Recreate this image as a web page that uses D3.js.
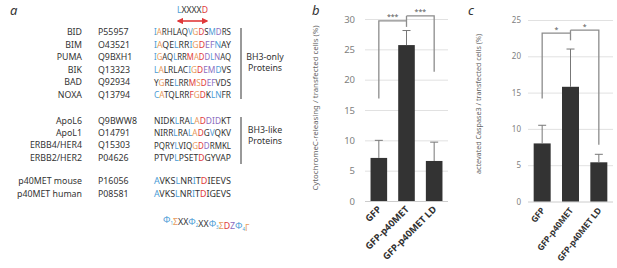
<!DOCTYPE html>
<html>
<head>
<meta charset="utf-8">
<script src="https://cdn.jsdelivr.net/npm/d3@7"></script>
<style>
  body { margin: 0; background: #fff; }
  svg { display: block; }
</style>
</head>
<body>
<svg id="chart" width="617" height="268"></svg>
<script>
// panel a: BH3 alignment
const bh3Only = ["BID", "BIM", "PUMA", "BIK", "BAD", "NOXA"];
const bh3OnlyAcc = ["P55957", "O43521", "Q9BXH1", "Q13323", "Q92934", "Q13794"];
const bh3OnlySeq = ["IARHLAQVGDSMDRS", "IAQELRRIGDEFNAY", "IGAQLRRMADDLNAQ",
  "LALRLACIGDEMDVS", "YGRELRRMSDEFVDS", "CATQLRRFGDKLNFR"];
// residue classes: b hydrophobic, o small, r acidic D, p other conserved, k none
const bh3OnlyCls = ["bokkkkkborkbpkk", "bokkbkkborppbkk", "bokkbkkrorpbpkk",
  "bokkkkkborppbkk", "kokkbkkrorppkkk", "bokkkkkrorkbbkk"];

const bh3Like = ["ApoL6", "ApoL1", "ERBB4/HER4", "ERBB2/HER2"];
const bh3LikeAcc = ["Q9BWW8", "O14791", "Q15303", "P04626"];
const bh3LikeSeq = ["NIDKLRALADDIDKT", "NIRRLRALADGVQKV", "PQRYLVIQGDDRMKL", "PTVPLPSETDGYVAP"];
const bh3LikeCls = ["kkkkbkkborpppkk", "kkkkbkkborkbkkk", "kkkkbkkkorpkkkk", "kkkkbkkkkrkkkkk"];

const p40 = ["p40MET mouse", "p40MET human"];
const p40Acc = ["P16056", "P08581"];
const p40Seq = ["AVKSLNRITDIEEVS", "AVKSLNRITDIGEVS"];
const p40Cls = ["bkkkbkkbkrkkkkk", "bkkkbkkbkrkkkkk"];

const motifTop = ["L", "XXXX", "D"];
const motifTopCls = ["b", "k", "r"];
const consensus = [["Φ", "1"], ["Σ", ""], ["XX", ""], ["Φ", "2"], ["XX", ""], ["Φ", "3"],
  ["Σ", ""], ["D", ""], ["Z", ""], ["Φ", "4"], ["Γ", ""]];
const consensusCls = ["b", "o", "k", "b", "k", "b", "o", "r", "p", "b", "o"];

// panels b and c
const categories = ["GFP", "GFP-p40MET", "GFP-p40MET LD"];
const cytoValues = [7.1, 25.7, 6.6];
const cytoErrors = [2.9, 2.4, 3.1];
const cytoTicks = [0, 5, 10, 15, 20, 25, 30];
const caspValues = [8.0, 15.8, 5.4];
const caspErrors = [2.5, 5.2, 1.1];
const caspTicks = [0, 5, 10, 15, 20, 25];

const palette = { b: "#4a9bd6", o: "#e89a5c", r: "#e0393a", p: "#8b6cc0", k: "#333" };
const svg = d3.select("#chart");
const font = "'Noto Sans', 'Open Sans', sans-serif";

// ---------- panel a ----------
svg.append("text").attr("x", 10).attr("y", 15)
  .attr("font-family", font).attr("font-style", "italic").attr("font-size", 13)
  .attr("fill", "#333").text("a");

function drawRows(names, accs, seqs, cls, yStart, step) {
  names.forEach((n, i) => {
    const y = yStart + i * step;
    svg.append("text").attr("x", 82).attr("y", y).attr("dy", "0.35em")
      .attr("text-anchor", "end").attr("font-family", font).attr("font-size", 8.8)
      .attr("fill", "#333").text(n);
    svg.append("text").attr("x", 98).attr("y", y).attr("dy", "0.35em")
      .attr("font-family", font).attr("font-size", 8.8).attr("fill", "#333").text(accs[i]);
    const t = svg.append("text").attr("x", 154).attr("y", y).attr("dy", "0.35em")
      .attr("font-family", font).attr("font-size", 9.4).attr("textLength", 77)
      .attr("lengthAdjust", "spacingAndGlyphs");
    seqs[i].split("").forEach((ch, j) => {
      t.append("tspan").attr("fill", palette[cls[i][j]]).text(ch);
    });
  });
}
drawRows(bh3Only, bh3OnlyAcc, bh3OnlySeq, bh3OnlyCls, 32, 12.6);
drawRows(bh3Like, bh3LikeAcc, bh3LikeSeq, bh3LikeCls, 121, 12.2);
drawRows(p40, p40Acc, p40Seq, p40Cls, 181, 12.8);

// LXXXXD motif and arrow
const motifText = svg.append("text").attr("x", 177).attr("y", 10).attr("dy", "0.35em")
  .attr("font-family", font).attr("font-size", 8.6);
motifTop.forEach((s, i) => motifText.append("tspan").attr("fill", palette[motifTopCls[i]]).text(s));

const defs = svg.append("defs");
defs.append("marker").attr("id", "arr").attr("viewBox", "0 0 10 10")
  .attr("refX", 8).attr("refY", 5).attr("markerWidth", 4).attr("markerHeight", 4)
  .attr("orient", "auto-start-reverse")
  .append("path").attr("d", "M0,0L10,5L0,10z").attr("fill", "#e0393a");
svg.append("line").attr("x1", 178).attr("x2", 207).attr("y1", 21).attr("y2", 21)
  .attr("stroke", "#e0393a").attr("stroke-width", 1.6)
  .attr("marker-start", "url(#arr)").attr("marker-end", "url(#arr)");

// brackets and group labels
[[28, 99, 57, ["BH3-only", "Proteins"]], [117, 164, 130, ["BH3-like", "Proteins"]]]
  .forEach(([y0, y1, ly, lbl]) => {
    svg.append("line").attr("x1", 241).attr("x2", 241).attr("y1", y0).attr("y2", y1)
      .attr("stroke", "#555").attr("stroke-width", 1.2);
    lbl.forEach((s, i) => svg.append("text").attr("x", 265).attr("y", ly + i * 11)
      .attr("dy", "0.35em").attr("text-anchor", "middle").attr("font-family", font)
      .attr("font-size", 8.8).attr("fill", "#333").text(s));
  });

const cons = svg.append("text").attr("x", 163).attr("y", 220).attr("dy", "0.35em")
  .attr("font-family", font).attr("font-size", 8.8);
consensus.forEach(([s, sub], i) => {
  cons.append("tspan").attr("fill", palette[consensusCls[i]]).text(s);
  if (sub) {
    cons.append("tspan").attr("fill", palette[consensusCls[i]])
      .attr("font-size", 4.5).attr("dy", 2).text(sub);
    cons.append("tspan").attr("dy", -2).text("");
  }
});

// ---------- bar panels ----------
function barPanel(o) {
  const y = d3.scaleLinear().domain([0, o.ticks[o.ticks.length - 1]]).range([o.y0, o.y1]);
  const x = d3.scaleBand().domain(categories).range([o.gx0, o.gx1])
    .paddingInner(0.4).paddingOuter(0.2);
  const g = svg.append("g");

  svg.append("text").attr("x", o.letterX).attr("y", 15)
    .attr("font-family", font).attr("font-style", "italic").attr("font-size", 13)
    .attr("fill", "#333").text(o.letter);

  const axis = d3.axisLeft(y).tickValues(o.ticks).tickSize(-(o.gx1 - o.gx0)).tickPadding(o.pad);
  const ag = g.append("g").attr("transform", `translate(${o.gx0},0)`).call(axis);
  ag.select(".domain").remove();
  ag.selectAll(".tick line").attr("stroke", "#d9d9d9").attr("stroke-width", 0.8);
  ag.selectAll(".tick text").attr("font-family", font).attr("font-size", o.tickSize)
    .attr("fill", "#808080");
  ag.selectAll(".tick").filter(d => d === 0).select("line").attr("stroke", "#bfbfbf");

  g.selectAll("rect.bar").data(o.values).join("rect").attr("class", "bar")
    .attr("x", (d, i) => x(categories[i])).attr("width", x.bandwidth())
    .attr("y", d => y(d)).attr("height", d => y(0) - y(d)).attr("fill", "#333");

  const cx = i => x(categories[i]) + x.bandwidth() / 2;
  o.values.forEach((v, i) => {
    const e = o.errors[i];
    g.append("line").attr("x1", cx(i)).attr("x2", cx(i)).attr("y1", y(v)).attr("y2", y(v + e))
      .attr("stroke", "#777").attr("stroke-width", 1);
    g.append("line").attr("x1", cx(i) - 4).attr("x2", cx(i) + 4)
      .attr("y1", y(v + e)).attr("y2", y(v + e)).attr("stroke", "#777").attr("stroke-width", 1);
  });

  // significance brackets
  const s = o.sig;
  const path = d => g.append("path").attr("d", d).attr("stroke", "#8c8c8c")
    .attr("stroke-width", 1.3).attr("fill", "none");
  path(`M${cx(0)},${y(s.leftLow)}V${y(s.h1)}H${cx(1)}`);
  path(`M${cx(1)},${y(s.h2)}H${cx(2)}V${y(s.rightLow)}`);
  path(`M${cx(1)},${y(s.h2)}V${y(s.midLow)}`);
  g.append("text").attr("x", (cx(0) + cx(1)) / 2).attr("y", y(s.h1) - 1.5)
    .attr("text-anchor", "middle").attr("font-family", font).attr("font-size", 7)
    .attr("fill", "#555").text(s.mark);
  g.append("text").attr("x", (cx(1) + cx(2)) / 2).attr("y", y(s.h2) - 1.5)
    .attr("text-anchor", "middle").attr("font-family", font).attr("font-size", 7)
    .attr("fill", "#555").text(s.mark);

  // y title
  svg.append("text")
    .attr("transform", `translate(${o.titleX},${o.titleY}) rotate(-90)`)
    .attr("text-anchor", "middle").attr("font-family", font).attr("font-size", o.titleSize)
    .attr("fill", "#666").text(o.title);

  // category labels
  categories.forEach((c, i) => {
    svg.append("text")
      .attr("transform", `translate(${cx(i) + 3},${o.y0 + 9}) rotate(${o.angle})`)
      .attr("text-anchor", "end").attr("font-family", font).attr("font-weight", "bold")
      .attr("font-size", o.catSize).attr("fill", "#333").text(c);
  });
}

barPanel({
  letter: "b", letterX: 312, values: cytoValues, errors: cytoErrors, ticks: cytoTicks,
  y0: 201, y1: 19, gx0: 365, gx1: 448, pad: 10,
  tickSize: 9.5, titleX: 318, titleY: 108, titleSize: 7.8, catSize: 9.4, angle: -45,
  title: "CytochromeC-releasing / transfected cells (%)",
  sig: { leftLow: 16.9, h1: 29.7, h2: 30.5, rightLow: 21.3, midLow: 28.7, mark: "***" }
});

barPanel({
  letter: "c", letterX: 468, values: caspValues, errors: caspErrors, ticks: caspTicks,
  y0: 201.5, y1: 20, gx0: 528, gx1: 613, pad: 7,
  tickSize: 8, titleX: 481, titleY: 104, titleSize: 7.2, catSize: 8.6, angle: -52,
  title: "actevated Caspase3 / transfected cells (%)",
  sig: { leftLow: 14.2, h1: 23.2, h2: 23.6, rightLow: 7.8, midLow: 22.2, mark: "*" }
});
</script>
</body>
</html>
